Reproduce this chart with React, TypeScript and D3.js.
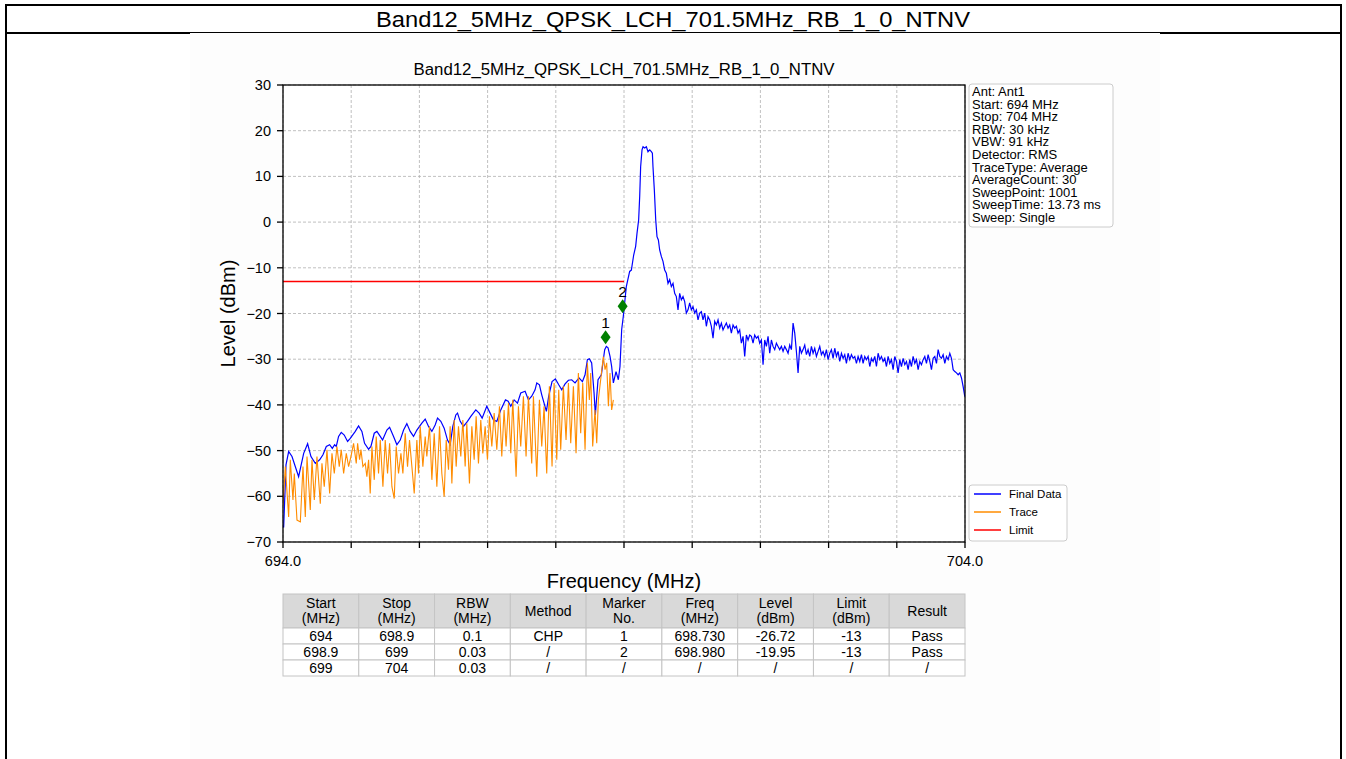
import React from 'react'
import * as d3 from 'd3'

const reportTitle = 'Band12_5MHz_QPSK_LCH_701.5MHz_RB_1_0_NTNV'
const chartTitle = 'Band12_5MHz_QPSK_LCH_701.5MHz_RB_1_0_NTNV'

const yTicks = [30, 20, 10, 0, -10, -20, -30, -40, -50, -60, -70]
const xTicks = [694, 695, 696, 697, 698, 699, 700, 701, 702, 703, 704]
const xTickLabels = ['694.0', '', '', '', '', '', '', '', '', '', '704.0']

// Final Data (blue), [MHz, dBm]
const finalHead: [number, number][] = [
  [694.0, -66.7], [694.01, -66.7], [694.044, -53.1], [694.083, -50.2], [694.132, -51.3], [694.229, -55.7],
  [694.303, -50.6], [694.361, -48.5], [694.41, -51.3], [694.474, -52.8], [694.537, -52.0], [694.586, -50.9],
  [694.635, -49.1], [694.684, -48.7], [694.723, -49.5], [694.757, -48.7], [694.781, -49.1], [694.815, -46.9],
  [694.854, -46.0], [694.898, -46.6], [694.947, -48.0], [694.986, -47.3], [695.06, -45.8], [695.108, -44.6],
  [695.157, -45.8], [695.196, -48.4], [695.255, -49.7], [695.289, -49.1], [695.338, -46.2], [695.377, -45.8],
  [695.426, -46.9], [695.46, -47.7], [695.523, -45.5], [695.563, -44.9], [695.621, -46.9], [695.67, -48.7],
  [695.719, -47.7], [695.768, -45.5], [695.816, -44.1], [695.865, -45.8], [695.914, -46.9], [695.963, -45.5],
  [696.036, -44.0], [696.085, -43.1], [696.134, -44.7], [696.183, -45.8], [696.231, -44.4], [696.266, -42.9],
  [696.314, -43.6], [696.363, -45.1], [696.412, -47.7], [696.451, -48.7], [696.49, -44.7], [696.534, -42.2],
  [696.559, -41.8], [696.598, -43.6], [696.646, -44.7], [696.705, -43.6], [696.754, -42.5], [696.827, -41.1],
  [696.876, -41.8], [696.92, -42.9], [696.988, -40.3], [697.037, -41.8], [697.086, -43.3], [697.135, -43.6],
  [697.193, -41.1], [697.262, -38.9], [697.301, -39.2], [697.34, -40.3], [697.389, -38.9], [697.438, -39.6],
  [697.486, -37.4], [697.55, -37.0], [697.599, -38.9], [697.647, -38.1], [697.696, -36.7], [697.721, -35.2],
  [697.76, -35.6], [697.794, -37.8], [697.828, -39.6], [697.862, -41.4], [697.896, -38.1], [697.945, -34.9],
  [697.994, -34.3], [698.043, -35.6], [698.087, -36.7], [698.136, -35.4], [698.185, -34.6], [698.233, -34.5],
  [698.282, -35.2], [698.341, -34.1], [698.39, -34.9], [698.429, -33.4], [698.463, -30.1], [698.492, -29.9],
  [698.526, -30.8], [698.561, -37.4], [698.58, -42.2], [698.619, -34.5], [698.668, -33.4], [698.697, -30.1],
  [698.717, -27.9], [698.741, -27.2], [698.766, -27.5], [698.795, -29.4], [698.819, -31.6], [698.844, -35.2],
  [698.883, -32.7], [698.917, -34.5], [698.941, -31.6], [698.966, -23.5], [698.99, -20.6], [699.034, -14.1],
  [699.083, -10.8], [699.108, -10.5], [699.142, -7.2], [699.171, -5.3], [699.191, -2.4], [699.215, 0.5],
  [699.23, 5.6], [699.244, 12.1], [699.264, 15.8], [699.279, 16.5], [699.303, 16.2], [699.328, 16.5],
  [699.352, 15.4], [699.377, 15.8], [699.401, 15.4], [699.416, 15.1], [699.425, 12.1], [699.445, 7.0],
  [699.465, 0.5], [699.484, -3.2], [699.504, -3.9]
]

// Final Data tail on the sweep grid from 699.523 MHz
const tailStart = 699.523
const tailStep = 0.02445
const finalTail = [
  -6.1, -7.5, -8.6, -10.5, -11.2, -13.4, -12.6, -14.1, -13.4, -15.6, -16.3, -19.2, -15.6, -17.0, -16.3, -17.4,
  -19.9, -19.2, -17.7, -19.2, -18.5, -19.9, -19.2, -21.4, -19.9, -19.6, -21.4, -19.9, -22.8, -20.7, -21.4, -22.8,
  -25.4, -21.7, -22.5, -21.4, -23.2, -22.1, -23.6, -22.8, -22.1, -23.2, -22.5, -24.3, -22.5, -23.2, -22.8, -24.3,
  -23.6, -26.5, -25.0, -29.4, -24.7, -25.8, -24.7, -25.0, -26.5, -24.7, -25.4, -25.0, -26.5, -25.8, -31.2, -25.8,
  -27.2, -25.0, -28.7, -25.8, -27.2, -27.9, -26.5, -27.2, -27.9, -27.2, -28.3, -27.2, -27.9, -28.7, -26.9, -27.9,
  -22.1, -24.3, -28.3, -33.0, -27.2, -28.7, -27.9, -26.9, -29.0, -27.9, -29.4, -27.2, -28.7, -27.6, -29.4, -28.3,
  -27.2, -29.0, -28.3, -29.4, -27.9, -30.1, -28.7, -27.9, -29.8, -27.6, -29.4, -28.3, -30.5, -28.7, -29.8, -29.0,
  -30.9, -28.7, -30.1, -29.0, -29.8, -29.4, -30.9, -29.4, -30.5, -29.0, -30.9, -29.4, -30.1, -29.4, -31.6, -29.8,
  -30.5, -29.4, -31.6, -28.7, -30.1, -29.4, -30.5, -29.8, -31.6, -29.4, -30.9, -30.1, -32.3, -29.4, -30.5, -33.0,
  -30.1, -31.6, -29.8, -31.2, -30.5, -32.3, -30.1, -31.6, -29.4, -30.9, -30.1, -32.3, -30.5, -31.2, -30.1, -29.4,
  -30.9, -29.0, -30.5, -32.3, -29.8, -29.4, -30.9, -27.9, -29.4, -29.8, -29.0, -30.9, -29.4, -30.1, -28.7, -29.8,
  -32.3, -32.7, -33.0, -33.4, -33.0, -34.1, -36.0, -38.2
]

// Trace (orange), 694 – 698.9 MHz
const traceData: [number, number][] = [
  [694.0, -62.0], [694.034, -53.5], [694.083, -64.5], [694.107, -52.0], [694.146, -60.8], [694.166, -55.0],
  [694.205, -65.2], [694.254, -65.6], [694.293, -53.5], [694.327, -64.5], [694.352, -51.3], [694.4, -63.0],
  [694.425, -52.0], [694.459, -60.8], [694.498, -51.3], [694.547, -61.6], [694.571, -52.8], [694.605, -57.9],
  [694.645, -49.8], [694.684, -59.4], [694.718, -50.6], [694.752, -55.0], [694.791, -49.1], [694.825, -53.5],
  [694.854, -49.8], [694.889, -55.0], [694.928, -50.6], [694.962, -53.5], [694.996, -51.3], [695.035, -48.4],
  [695.074, -52.8], [695.094, -48.4], [695.123, -52.0], [695.143, -49.8], [695.172, -53.5], [695.206, -52.8],
  [695.23, -55.7], [695.255, -52.0], [695.279, -59.4], [695.304, -49.1], [695.338, -56.4], [695.367, -46.9],
  [695.401, -55.0], [695.426, -47.7], [695.465, -57.9], [695.499, -47.7], [695.533, -55.0], [695.563, -48.4],
  [695.597, -57.9], [695.631, -60.5], [695.66, -49.1], [695.694, -55.0], [695.729, -50.6], [695.758, -55.0],
  [695.792, -46.2], [695.826, -53.5], [695.855, -47.7], [695.89, -53.5], [695.924, -59.4], [695.963, -47.7],
  [695.987, -55.0], [696.012, -44.7], [696.051, -53.5], [696.085, -46.9], [696.109, -51.3], [696.148, -44.7],
  [696.183, -56.4], [696.217, -46.2], [696.256, -57.9], [696.295, -44.7], [696.329, -55.0], [696.363, -60.1],
  [696.393, -47.7], [696.427, -54.2], [696.451, -44.7], [696.476, -57.2], [696.51, -43.3], [696.539, -53.5],
  [696.573, -44.7], [696.607, -51.3], [696.637, -43.3], [696.671, -53.5], [696.695, -44.0], [696.734, -57.2],
  [696.769, -44.7], [696.803, -52.0], [696.832, -42.5], [696.866, -52.8], [696.9, -43.3], [696.93, -50.6],
  [696.964, -44.7], [696.998, -52.0], [697.027, -42.5], [697.062, -49.1], [697.096, -41.8], [697.135, -49.8],
  [697.174, -40.3], [697.208, -51.3], [697.242, -41.1], [697.271, -49.1], [697.306, -39.6], [697.34, -50.6],
  [697.369, -38.9], [697.418, -55.7], [697.452, -40.3], [697.486, -49.1], [697.525, -38.1], [697.564, -51.3],
  [697.599, -38.1], [697.647, -52.8], [697.672, -38.1], [697.721, -55.7], [697.76, -38.9], [697.794, -49.1],
  [697.828, -40.3], [697.867, -55.0], [697.906, -35.9], [697.945, -53.5], [697.975, -35.2], [698.014, -52.0],
  [698.043, -36.7], [698.072, -49.8], [698.111, -35.9], [698.15, -47.7], [698.185, -35.2], [698.219, -48.4],
  [698.258, -35.9], [698.297, -50.6], [698.331, -33.0], [698.365, -46.2], [698.395, -35.2], [698.429, -49.8],
  [698.463, -30.8], [698.492, -38.9], [698.512, -33.0], [698.541, -49.1], [698.575, -41.1], [698.6, -48.4],
  [698.624, -38.9], [698.658, -34.5], [698.697, -29.4], [698.722, -32.3], [698.746, -30.8], [698.771, -40.3],
  [698.795, -33.0], [698.819, -41.1], [698.844, -38.9]
]

const limitSegments = [{ start: 694, stop: 699, level: -13 }]

const markers = [
  { label: '1', freq: 698.73, level: -25.2 },
  { label: '2', freq: 698.98, level: -18.4 }
]

const infoLines = [
  'Ant: Ant1', 'Start: 694 MHz', 'Stop: 704 MHz', 'RBW: 30 kHz', 'VBW: 91 kHz', 'Detector: RMS',
  'TraceType: Average', 'AverageCount: 30', 'SweepPoint: 1001', 'SweepTime: 13.73 ms', 'Sweep: Single'
]

const legendItems = [
  { name: 'Final Data', color: '#0000ff' },
  { name: 'Trace', color: '#ff8c00' },
  { name: 'Limit', color: '#ff0000' }
]

const tableHeader = [
  ['Start', '(MHz)'], ['Stop', '(MHz)'], ['RBW', '(MHz)'], ['Method'], ['Marker', 'No.'],
  ['Freq', '(MHz)'], ['Level', '(dBm)'], ['Limit', '(dBm)'], ['Result']
]
const tableRows = [
  ['694', '698.9', '0.1', 'CHP', '1', '698.730', '-26.72', '-13', 'Pass'],
  ['698.9', '699', '0.03', '/', '2', '698.980', '-19.95', '-13', 'Pass'],
  ['699', '704', '0.03', '/', '/', '/', '/', '/', '/']
]

const font = 'Liberation Sans, Arial, sans-serif'

export default function App() {
  const W = 1346
  const H = 759
  const plot = { left: 283, right: 965, top: 85, bottom: 542 }

  const x = d3.scaleLinear().domain([694, 704]).range([plot.left, plot.right])
  const y = d3.scaleLinear().domain([-70, 30]).range([plot.bottom, plot.top])

  const finalData: [number, number][] = finalHead.concat(
    finalTail.map((v, i) => [tailStart + i * tailStep, v] as [number, number])
  )

  const line = d3.line<[number, number]>().x(d => x(d[0])).y(d => y(d[1]))

  const tbl = { left: 283, right: 965, top: 594, headH: 34, rowH: 16 }
  const colW = (tbl.right - tbl.left) / tableHeader.length

  return (
    <>
      <style>{`body{margin:0}`}</style>
      <svg width={W} height={H} style={{ display: 'block', fontFamily: font }}>
        <rect width={W} height={H} fill="#fff" />
        {/* embedded image backdrop */}
        <rect x={190} y={33} width={970} height={H - 33} fill="#fdfdfd" />

        {/* report frame */}
        <line x1={5} x2={1342} y1={5} y2={5} stroke="#000" strokeWidth={2} />
        <line x1={6} x2={6} y1={4} y2={H} stroke="#000" strokeWidth={2} />
        <line x1={1341} x2={1341} y1={4} y2={H} stroke="#000" strokeWidth={2} />
        <line x1={6} x2={190} y1={33} y2={33} stroke="#000" strokeWidth={2} />
        <line x1={190} x2={1160} y1={32.5} y2={32.5} stroke="#000" strokeWidth={1} />
        <line x1={1160} x2={1341} y1={33} y2={33} stroke="#000" strokeWidth={2} />
        <text x={673} y={27} textAnchor="middle" fontSize={22} textLength={594} lengthAdjust="spacingAndGlyphs">
          {reportTitle}
        </text>

        {/* plot background */}
        <rect x={plot.left} y={plot.top} width={plot.right - plot.left} height={plot.bottom - plot.top} fill="#fff" />

        {/* grid */}
        <g stroke="#b0b0b0" strokeWidth={0.8} strokeDasharray="3,2">
          {yTicks.map(t => (
            <line key={'gy' + t} x1={plot.left} x2={plot.right} y1={y(t)} y2={y(t)} />
          ))}
          {xTicks.map(t => (
            <line key={'gx' + t} x1={x(t)} x2={x(t)} y1={plot.top} y2={plot.bottom} />
          ))}
        </g>

        <defs>
          <clipPath id="plotClip">
            <rect x={plot.left} y={plot.top} width={plot.right - plot.left} height={plot.bottom - plot.top} />
          </clipPath>
        </defs>

        <g clipPath="url(#plotClip)" fill="none">
          <path d={line(finalData) || ''} stroke="#0000ff" strokeWidth={1.2} />
          <path d={line(traceData) || ''} stroke="#ff8c00" strokeWidth={1.1} />
          {limitSegments.map((s, i) => (
            <line key={i} x1={x(s.start)} x2={x(s.stop)} y1={y(s.level)} y2={y(s.level)} stroke="#ff0000" strokeWidth={1.5} />
          ))}
        </g>

        {/* markers */}
        {markers.map(m => {
          const cx = x(m.freq)
          const cy = y(m.level)
          return (
            <g key={m.label}>
              <path d={`M${cx},${cy - 7}L${cx + 5},${cy}L${cx},${cy + 7}L${cx - 5},${cy}Z`} fill="#008000" />
              <text x={cx} y={cy - 9} textAnchor="middle" fontSize={15.5} fill="#000">{m.label}</text>
            </g>
          )
        })}

        {/* frame */}
        <rect x={plot.left} y={plot.top} width={plot.right - plot.left} height={plot.bottom - plot.top} fill="none" stroke="#000" strokeWidth={1.3} />

        {/* y axis */}
        {yTicks.map(t => (
          <g key={'yt' + t}>
            <line x1={plot.left - 6} x2={plot.left} y1={y(t)} y2={y(t)} stroke="#000" strokeWidth={1.3} />
            <text x={plot.left - 12} y={y(t) + 5} textAnchor="end" fontSize={14.5}>
              {t < 0 ? '\u2212' + Math.abs(t) : String(t)}
            </text>
          </g>
        ))}
        {/* x axis */}
        {xTicks.map((t, i) => (
          <g key={'xt' + t}>
            <line x1={x(t)} x2={x(t)} y1={plot.bottom} y2={plot.bottom + 6} stroke="#000" strokeWidth={1.3} />
            {xTickLabels[i] && (
              <text x={x(t)} y={plot.bottom + 24} textAnchor="middle" fontSize={14.5}>{xTickLabels[i]}</text>
            )}
          </g>
        ))}

        <text x={(plot.left + plot.right) / 2} y={75} textAnchor="middle" fontSize={16} textLength={421} lengthAdjust="spacingAndGlyphs">
          {chartTitle}
        </text>
        <text x={(plot.left + plot.right) / 2} y={588} textAnchor="middle" fontSize={20}>Frequency (MHz)</text>
        <text transform={`translate(235,${(plot.top + plot.bottom) / 2}) rotate(-90)`} textAnchor="middle" fontSize={20}>Level (dBm)</text>

        {/* info box */}
        <rect x={969} y={84} width={144} height={143} rx={3} fill="#fff" stroke="#cccccc" strokeWidth={1} />
        {infoLines.map((s, i) => (
          <text key={s} x={972} y={96 + i * 12.6} fontSize={13}>{s}</text>
        ))}

        {/* legend */}
        <rect x={969} y={485} width={98} height={56} rx={3} fill="#fff" stroke="#cccccc" strokeWidth={1} />
        {legendItems.map((it, i) => (
          <g key={it.name}>
            <line x1={974} x2={1001} y1={494 + i * 18} y2={494 + i * 18} stroke={it.color} strokeWidth={1.5} />
            <text x={1009} y={498 + i * 18} fontSize={11.5}>{it.name}</text>
          </g>
        ))}

        {/* table */}
        <g>
          {tableHeader.map((h, c) => (
            <g key={'h' + c}>
              <rect x={tbl.left + c * colW} y={tbl.top} width={colW} height={tbl.headH} fill="#d9d9d9" stroke="#c4c4c4" />
              {h.map((s, k) => (
                <text
                  key={k}
                  x={tbl.left + (c + 0.5) * colW}
                  y={h.length === 1 ? tbl.top + 22 : tbl.top + 14 + k * 15}
                  textAnchor="middle"
                  fontSize={14}
                >
                  {s}
                </text>
              ))}
            </g>
          ))}
          {tableRows.map((row, r) =>
            row.map((s, c) => (
              <g key={'c' + r + '-' + c}>
                <rect
                  x={tbl.left + c * colW}
                  y={tbl.top + tbl.headH + r * tbl.rowH}
                  width={colW}
                  height={tbl.rowH}
                  fill="#fff"
                  stroke="#c4c4c4"
                />
                <text
                  x={tbl.left + (c + 0.5) * colW}
                  y={tbl.top + tbl.headH + r * tbl.rowH + 13}
                  textAnchor="middle"
                  fontSize={14}
                >
                  {s}
                </text>
              </g>
            ))
          )}
        </g>
      </svg>
    </>
  )
}
